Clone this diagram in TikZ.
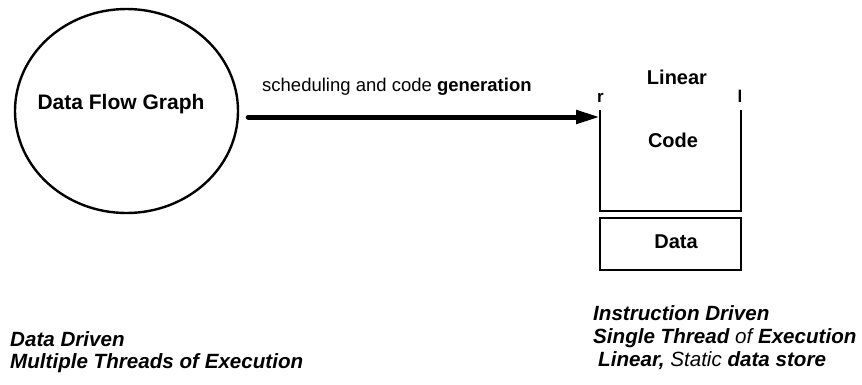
\documentclass[tikz,border=0pt]{standalone}
\usepackage{fontspec}
\setmainfont{Liberation Sans}
\usetikzlibrary{arrows.meta,shapes.geometric}
\begin{document}
\begin{tikzpicture}[x=1pt,y=-1pt,
  lbl/.style={inner sep=0pt,font=\fontsize{20}{22}\selectfont\bfseries},
  captxt/.style={inner sep=0pt,anchor=base west,font=\fontsize{20.6}{22}\selectfont\bfseries\itshape},
  boxline/.style={line width=2.4pt}]
\useasboundingbox (0,0) rectangle (862,384);
% data flow graph
\node[ellipse,draw,line width=2.4pt,minimum width=223pt,minimum height=204pt,inner sep=0pt] (dfg) at (126.5,111) {};
\node[lbl,anchor=base,font=\fontsize{21}{22}\selectfont\bfseries] (dfglabel) at (121,109.5) {Data Flow Graph};
% linear code box (open top)
\coordinate (cTL) at (600,110);
\coordinate (cTR) at (741,110);
\coordinate (cBL) at (600,211);
\coordinate (cBR) at (741,211);
\draw[boxline] (cTL) -- (cBL) -- (cBR) -- (cTR);
\node[inner sep=0pt,anchor=base,font=\fontsize{17}{20}\selectfont\bfseries] (rmark) at (600.5,102) {r};
\node[inner sep=0pt,anchor=base,font=\fontsize{17}{20}\selectfont\bfseries] (lmark) at (740,102) {l};
\node[lbl,anchor=base] (linear) at (677,84) {Linear};
\node[lbl,anchor=base] (code) at (673,147) {Code};
% data box
\node[draw,boxline,minimum width=141pt,minimum height=52pt,inner sep=0pt] (databox) at (670.5,244) {};
\node[lbl,anchor=base] (datalabel) at (676,248) {Data};
% arrow
\coordinate (arrend) at (600,117);
\draw[line width=5pt,line cap=round,-{Triangle[length=24pt,width=13pt]}] (dfg.east |- 0,117) ++(9,0) -- (arrend);
\node[inner sep=0pt,anchor=base west,font=\fontsize{18.5}{22}\selectfont] (sched) at (262,91) {scheduling and code {\bfseries generation}};
% bottom captions
\node[captxt] (dd) at (10,346) {Data Driven};
\node[captxt] (mt) at (10,368) {Multiple Threads of Execution};
\node[captxt] (id) at (593,320.5) {Instruction Driven};
\node[captxt] (st) at (593,343) {Single Thread {\mdseries of} Execution};
\node[captxt] (ls) at (598,366) {Linear, {\mdseries Static} data store};
\end{tikzpicture}
\end{document}
